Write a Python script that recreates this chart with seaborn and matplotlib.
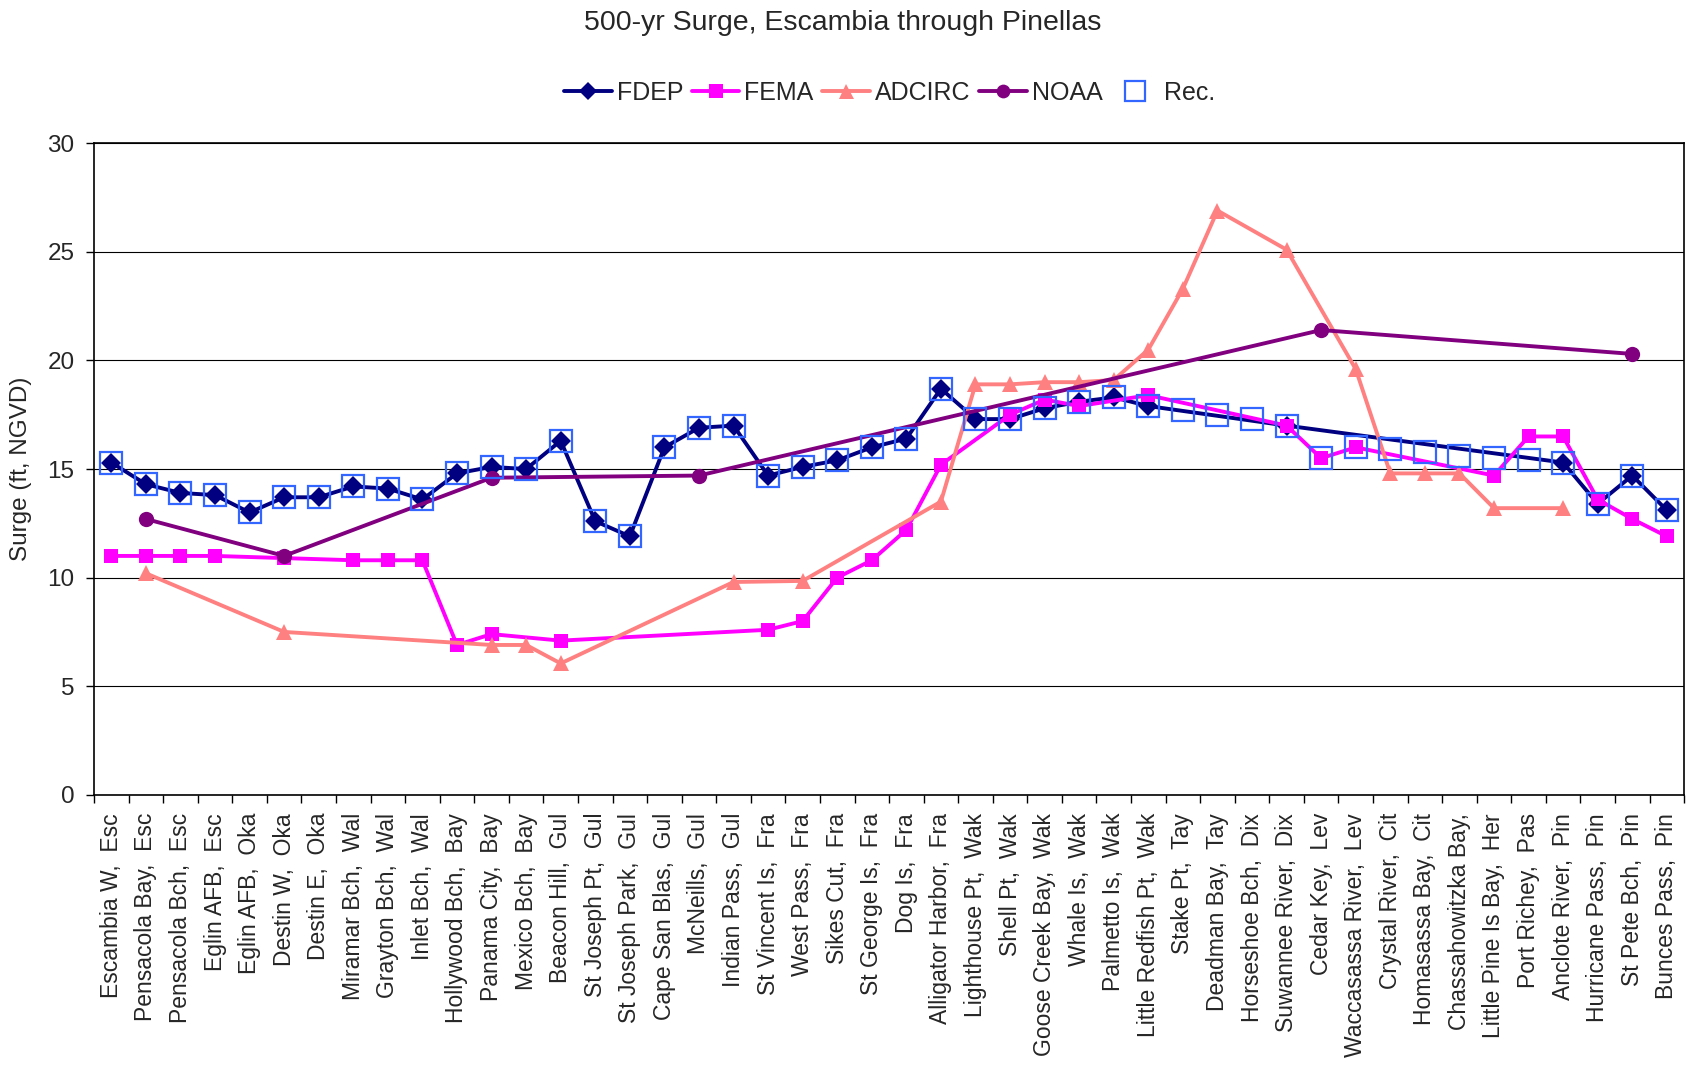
import numpy as np
import pandas as pd
import seaborn as sns
import matplotlib.pyplot as plt
from matplotlib.ticker import NullFormatter

nan = np.nan

sites = [
    "Escambia W,  Esc", "Pensacola Bay,  Esc", "Pensacola Bch,  Esc", "Eglin AFB,  Esc",
    "Eglin AFB,  Oka", "Destin W,  Oka", "Destin E,  Oka", "Miramar Bch,  Wal",
    "Grayton Bch,  Wal", "Inlet Bch,  Wal", "Hollywood Bch,  Bay", "Panama City,  Bay",
    "Mexico Bch,  Bay", "Beacon Hill,  Gul", "St Joseph Pt,  Gul", "St Joseph Park,  Gul",
    "Cape San Blas,  Gul", "McNeills,  Gul", "Indian Pass,  Gul", "St Vincent Is,  Fra",
    "West Pass,  Fra", "Sikes Cut,  Fra", "St George Is,  Fra", "Dog Is,  Fra",
    "Alligator Harbor,  Fra", "Lighthouse Pt,  Wak", "Shell Pt,  Wak", "Goose Creek Bay,  Wak",
    "Whale Is,  Wak", "Palmetto Is,  Wak", "Little Redfish Pt,  Wak", "Stake Pt,  Tay",
    "Deadman Bay,  Tay", "Horseshoe Bch,  Dix", "Suwannee River,  Dix", "Cedar Key,  Lev",
    "Waccasassa River,  Lev", "Crystal River,  Cit", "Homasassa Bay,  Cit", "Chassahowitzka Bay,",
    "Little Pine Is Bay,  Her", "Port Richey,  Pas", "Anclote River,  Pin", "Hurricane Pass,  Pin",
    "St Pete Bch,  Pin", "Bunces Pass,  Pin",
]

fdep = [15.3, 14.3, 13.9, 13.8, 13.0, 13.7, 13.7, 14.2, 14.1, 13.6,
        14.8, 15.1, 15.0, 16.3, 12.6, 11.9, 16.0, 16.9, 17.0, 14.7,
        15.1, 15.4, 16.0, 16.4, 18.7, 17.3, 17.3, 17.8, 18.1, 18.3,
        17.9, nan, nan, nan, 17.0, nan, nan, nan, nan, nan,
        nan, nan, 15.3, 13.4, 14.7, 13.1]

fema = [11.0, 11.0, 11.0, 11.0, nan, 10.9, nan, 10.8, 10.8, 10.8,
        6.9, 7.4, nan, 7.1, nan, nan, nan, nan, nan, 7.6,
        8.0, 10.0, 10.8, 12.2, 15.2, nan, 17.5, 18.2, 17.9, nan,
        18.4, nan, nan, nan, 17.0, 15.5, 16.0, nan, nan, nan,
        14.7, 16.5, 16.5, 13.6, 12.7, 11.9]

adcirc = [nan, 10.2, nan, nan, nan, 7.5, nan, nan, nan, nan,
          nan, 6.9, 6.9, 6.05, nan, nan, nan, nan, 9.8, nan,
          9.85, nan, nan, nan, 13.5, 18.9, 18.9, 19.0, 19.0, 19.1,
          20.5, 23.3, 26.9, nan, 25.1, nan, 19.6, 14.8, 14.8, 14.8,
          13.2, nan, 13.2, nan, nan, nan]

noaa = [nan, 12.7, nan, nan, nan, 11.0, nan, nan, nan, nan,
        nan, 14.6, nan, nan, nan, nan, nan, 14.7, nan, nan,
        nan, nan, nan, nan, nan, nan, nan, nan, nan, nan,
        nan, nan, nan, nan, nan, 21.4, nan, nan, nan, nan,
        nan, nan, nan, nan, 20.3, nan]

rec = [15.3, 14.3, 13.9, 13.8, 13.0, 13.7, 13.7, 14.2, 14.1, 13.6,
       14.8, 15.1, 15.0, 16.3, 12.6, 11.9, 16.0, 16.9, 17.0, 14.7,
       15.1, 15.4, 16.0, 16.4, 18.7, 17.3, 17.3, 17.8, 18.1, 18.3,
       17.9, 17.7, 17.5, 17.3, 17.0, 15.5, 16.0, 15.9, 15.8, 15.6,
       15.5, 15.4, 15.3, 13.4, 14.7, 13.1]

sns.set_theme(style="white")
plt.rcParams["font.family"] = ["Liberation Sans", "DejaVu Sans"]

fig = plt.figure(figsize=(16.88, 10.82), dpi=100)
ax = fig.add_axes([0.0557, 0.2654, 0.942, 0.6022])
ax.set_axisbelow(True)

pos = np.arange(len(sites))
series = [
    ("FDEP", fdep, "#000080", "D", 10.0),
    ("FEMA", fema, "#FF00FF", "s", 10.5),
    ("ADCIRC", adcirc, "#FF8080", "^", 12.0),
    ("NOAA", noaa, "#800080", "o", 11.0),
]
for name, vals, color, marker, ms in series:
    df = pd.DataFrame({"pos": pos, "surge": vals}).dropna()  # skip gaps, connect the rest
    sns.lineplot(data=df, x="pos", y="surge", ax=ax, color=color, marker=marker,
                 markersize=ms, markeredgewidth=0, markeredgecolor=color,
                 linewidth=2.8, estimator=None, label=name)

df = pd.DataFrame({"pos": pos, "surge": rec}).dropna()
sns.lineplot(data=df, x="pos", y="surge", ax=ax, color="#3366FF", marker="s",
             markersize=16, markerfacecolor="none", markeredgecolor="#3366FF",
             markeredgewidth=1.6, linestyle="", estimator=None, label="Rec.")

leg = ax.get_legend()
if leg is not None:
    leg.remove()
handles, labels = ax.get_legend_handles_labels()
fig.legend(handles, labels, loc="center", bbox_to_anchor=(0.527, 0.914), ncol=5,
           frameon=False, fontsize=18, handlelength=1.9, handletextpad=0.2,
           columnspacing=0.35, markerscale=0.9)

ax.set_xlim(-0.5, len(sites) - 0.5)
ax.set_ylim(0, 30)
ax.set_yticks(np.arange(0, 31, 5))
ax.set_xticks(np.arange(-0.5, len(sites), 1))
ax.xaxis.set_major_formatter(NullFormatter())
ax.set_xticks(pos, minor=True)
ax.set_xticklabels(sites, minor=True, rotation=90, ha="center", va="top", fontsize=16.5)
ax.tick_params(axis="x", which="major", bottom=True, length=6, width=1, color="black", direction="out")
ax.tick_params(axis="x", which="minor", bottom=True, length=0, pad=13)
ax.tick_params(axis="y", left=True, length=6, width=1, color="black", direction="out",
               labelsize=17.5, pad=8)
ax.yaxis.grid(True, color="black", linewidth=0.8)
ax.xaxis.grid(False)
for sp in ax.spines.values():
    sp.set_visible(True)
    sp.set_color("black")
    sp.set_linewidth(1.2)

ax.set_xlabel("")
ax.set_ylabel("")
fig.text(0.0127, 0.5665, "Surge (ft, NGVD)", rotation=90, ha="center", va="center", fontsize=17.5)
fig.text(0.4994, 0.979, "500-yr Surge, Escambia through Pinellas", ha="center", va="center", fontsize=20.5)

fig.savefig("out.png", dpi=100)
